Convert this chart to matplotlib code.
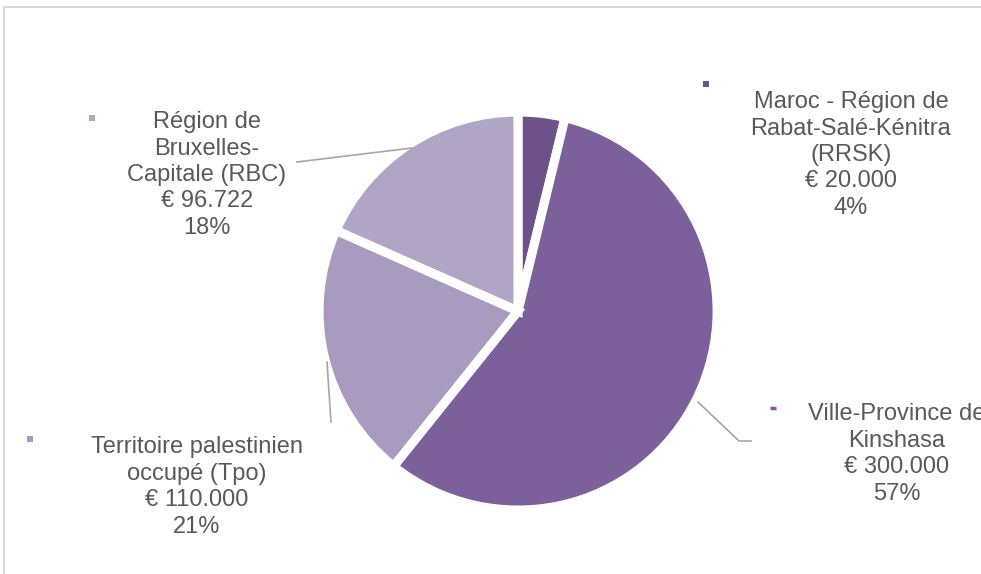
import matplotlib
matplotlib.use("Agg")
from matplotlib import pyplot as plt

# data
names = ["Maroc - Région de\nRabat-Salé-Kénitra\n(RRSK)",
         "Ville-Province de\nKinshasa",
         "Territoire palestinien\noccupé (Tpo)",
         "Région de\nBruxelles-\nCapitale (RBC)"]
amounts = [20000, 300000, 110000, 96722]
colors = ["#6C5289", "#7C609B", "#A99AC0", "#B1A5C6"]

H = 574
fig = plt.figure(figsize=(9.81, 5.74), dpi=100)
ax = fig.add_axes([0, 0, 1, 1])

# chart frame (partly cropped)
ax.plot([4, 4, 981], [0, H - 7, H - 7], color="#D9D9D9", lw=1.5)

cx, cy, r = 518, H - 311, 199
ax.pie(amounts, colors=colors, startangle=90, counterclock=False,
       center=(cx, cy), radius=r, explode=[0.02, 0.075, 0, 0],
       wedgeprops=dict(edgecolor="white", linewidth=6.5), frame=True)
ax.set_xlim(0, 981)
ax.set_ylim(0, H)
ax.set_aspect("equal")
ax.axis("off")

total = sum(amounts)
labels = []
for n, v in zip(names, amounts):
    euro = "{:,}".format(v).replace(",", ".")
    labels.append("%s\n€ %s\n%d%%" % (n, euro, round(v / total * 100)))

# label positions (pixel coords, top-left origin)
text_pos = [(851, 155), (897, 454), (197, 487), (207, 175)]
mark_pos = [(706, 84), (773, 408), (30, 439), (92, 118)]
for i, lab in enumerate(labels):
    tx, ty = text_pos[i]
    ax.text(tx, H - ty, lab, ha="center", va="center", fontsize=17,
            color="#595959", family="Liberation Sans", linespacing=1.26,
            clip_on=False)
    mx, my = mark_pos[i]
    if i == 1:
        ax.plot([mx - 3, mx + 3], [H - my, H - my], color=colors[i], lw=2.5,
                solid_capstyle="butt")
    else:
        ax.plot(mx, H - my, marker="s", ms=5, color=colors[i], mew=0)

# leader lines
ax.plot([297, 412], [H - 162, H - 148], color="#A6A6A6", lw=1.2)
ax.plot([327, 331], [H - 362, H - 422], color="#A6A6A6", lw=1.2)
ax.plot([698, 739, 751], [H - 402, H - 441, H - 441], color="#A6A6A6", lw=1.2)

fig.savefig("out.png", dpi=100)
